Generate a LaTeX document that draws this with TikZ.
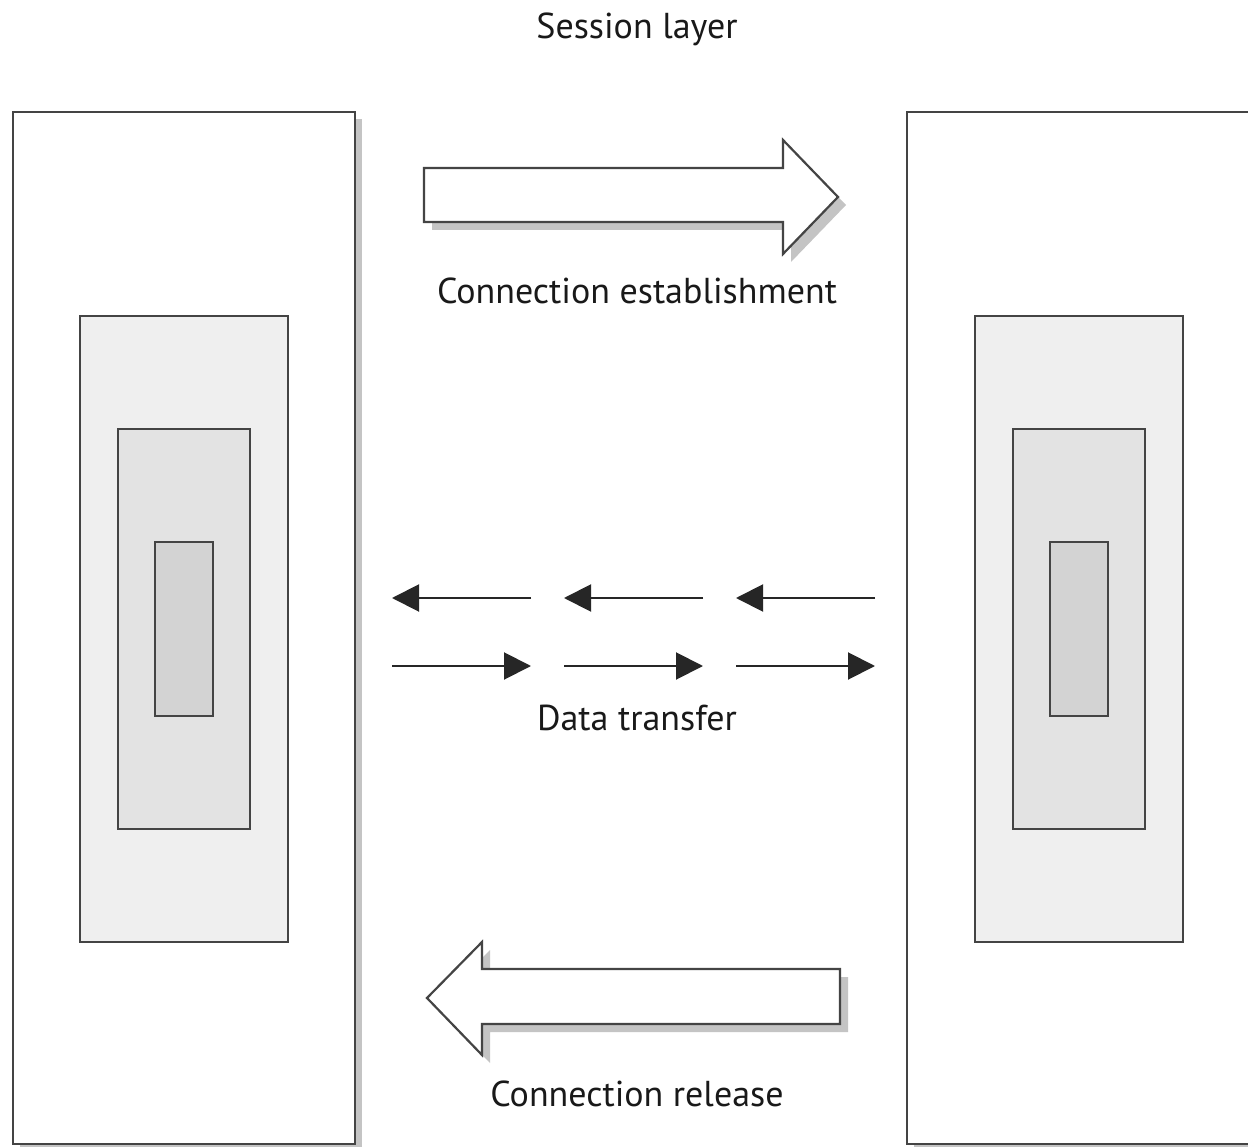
\documentclass[tikz,border=0pt]{standalone}
\usepackage{fontspec}
\setmainfont{PT Sans}
\usetikzlibrary{arrows.meta}
\definecolor{edge}{HTML}{444444}
\definecolor{shade}{HTML}{C4C4C4}
\definecolor{fillA}{HTML}{EFEFEF}
\definecolor{fillB}{HTML}{E3E3E3}
\definecolor{fillC}{HTML}{D3D3D3}
\begin{document}
\begin{tikzpicture}[x=1pt,y=-1pt,
  box/.style={draw=edge,line width=2.2pt,rectangle,inner sep=0pt,anchor=north west},
  shadowbox/.style={fill=shade,draw=none,rectangle,inner sep=0pt,anchor=north west},
  label/.style={font=\fontsize{36}{42}\selectfont,text=black!90,inner sep=0pt},
  small/.style={draw=black!85,line width=2pt,-{Triangle[length=27pt,width=27pt]}},
  bigarrow/.style={draw=edge,line width=2.2pt,fill=white,line join=miter},
  bigshadow/.style={fill=shade,draw=none}]
\useasboundingbox (0,0) rectangle (1248,1147);
\fill[white] (0,0) rectangle (1248,1147);

% left stack
\node[shadowbox,minimum width=342pt,minimum height=1032pt] at (20,119) {};
\node[box,fill=white,minimum width=342pt,minimum height=1032pt] (L) at (12,111) {};
\node[box,fill=fillA,minimum width=208pt,minimum height=626pt] (L1) at (79,315) {};
\node[box,fill=fillB,minimum width=132pt,minimum height=400pt] (L2) at (117,428) {};
\node[box,fill=fillC,minimum width=58pt,minimum height=174pt] (L3) at (154,541) {};

% right stack
\node[shadowbox,minimum width=342pt,minimum height=1032pt] at (914,119) {};
\node[box,fill=white,minimum width=342pt,minimum height=1032pt] (R) at (906,111) {};
\node[box,fill=fillA,minimum width=208pt,minimum height=626pt] (R1) at (974,315) {};
\node[box,fill=fillB,minimum width=132pt,minimum height=400pt] (R2) at (1012,428) {};
\node[box,fill=fillC,minimum width=58pt,minimum height=174pt] (R3) at (1049,541) {};

% connection establishment arrow
\begin{scope}[shift={(8,8)}]
\fill[bigshadow] (424,168) -- (783,168) -- (783,140) -- (838,197) -- (783,254) -- (783,222) -- (424,222) -- cycle;
\end{scope}
\draw[bigarrow] (424,168) -- (783,168) -- (783,140) -- (838,197) -- (783,254) -- (783,222) -- (424,222) -- cycle;

% connection release arrow
\begin{scope}[shift={(8,8)}]
\fill[bigshadow] (840,969) -- (482,969) -- (482,942) -- (427,998) -- (482,1055) -- (482,1024) -- (840,1024) -- cycle;
\end{scope}
\draw[bigarrow] (840,969) -- (482,969) -- (482,942) -- (427,998) -- (482,1055) -- (482,1024) -- (840,1024) -- cycle;

% data transfer arrows
\coordinate (a1s) at (531,598); \coordinate (a1e) at (392,598);
\coordinate (a2s) at (703,598); \coordinate (a2e) at (564,598);
\coordinate (a3s) at (875,598); \coordinate (a3e) at (736,598);
\coordinate (b1s) at (392,666); \coordinate (b1e) at (531,666);
\coordinate (b2s) at (564,666); \coordinate (b2e) at (703,666);
\coordinate (b3s) at (736,666); \coordinate (b3e) at (875,666);
\draw[small] (a1s) -- (a1e);
\draw[small] (a2s) -- (a2e);
\draw[small] (a3s) -- (a3e);
\draw[small] (b1s) -- (b1e);
\draw[small] (b2s) -- (b2e);
\draw[small] (b3s) -- (b3e);

% labels
\node[label] (t0) at (637,29) {Session layer};
\node[label] (t1) at (637,291) {Connection establishment};
\node[label] (t2) at (637,718) {Data transfer};
\node[label] (t3) at (637,1094) {Connection release};
\end{tikzpicture}
\end{document}
